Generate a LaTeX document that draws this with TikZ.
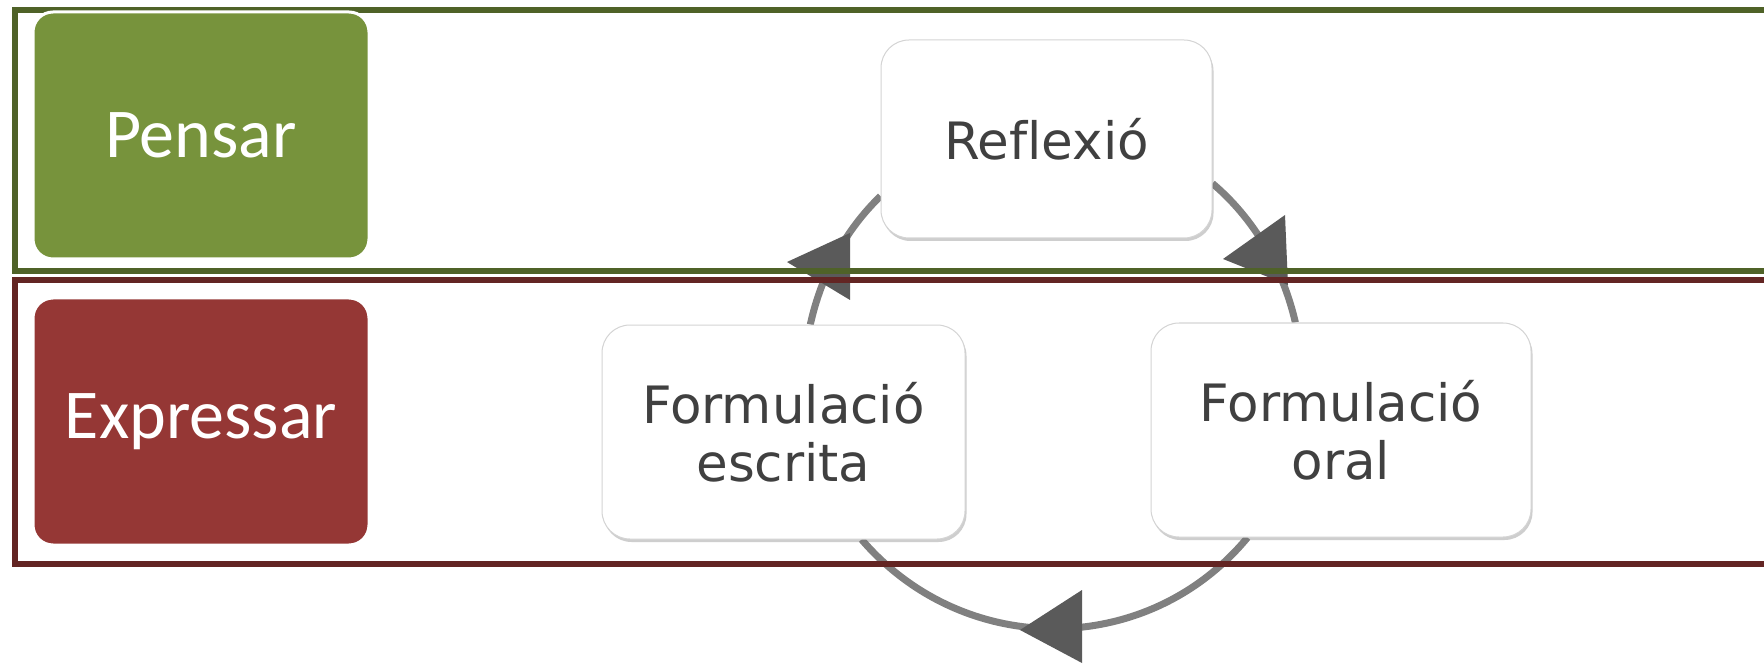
\documentclass[tikz,border=0pt]{standalone}
\usepackage{fontspec}
\setmainfont{DejaVu Sans}[Ligatures={NoCommon}]
\newfontfamily\calib{Carlito}
\usetikzlibrary{shadows}
\definecolor{olivebox}{HTML}{77933C}
\definecolor{oliveframe}{HTML}{4F6228}
\definecolor{redbox}{HTML}{953735}
\definecolor{redframe}{HTML}{632523}
\definecolor{txtgray}{HTML}{404040}
\definecolor{arcgray}{HTML}{808080}
\definecolor{tipgray}{HTML}{5A5A5A}
\definecolor{boxedge}{HTML}{D4D4D4}
\pgfdeclarelayer{bg}
\pgfdeclarelayer{mid}
\pgfsetlayers{bg,mid,main}
\begin{document}
\begin{tikzpicture}[x=1pt,y=1pt,
  labelbox/.style={rounded corners=20pt, draw=white, line width=3pt, inner sep=0pt,
    minimum width=336pt, minimum height=247pt, text=white,
    font=\calib\fontsize{70}{80}\selectfont},
  cyclebox/.style={rounded corners=28pt, draw=boxedge, line width=1pt, fill=white,
    inner sep=0pt, minimum height=214pt, align=center, text=txtgray,
    font=\fontsize{51.5}{58}\selectfont,
    drop shadow={shadow xshift=1.5pt, shadow yshift=-3pt, opacity=0.35, fill=black!55}},
  cyc/.style={draw=arcgray, line width=7pt},
  tipshape/.style={fill=tipgray},
  frame/.style={line width=5.5pt}]
\useasboundingbox (0,0) rectangle (1764,665);

% label boxes
\node[labelbox, fill=olivebox] (pensar) at (201,529.5) {Pensar};
\node[labelbox, fill=redbox] (expressar) at (201,243.5) {Expressar};

% cycle boxes
\node[cyclebox, minimum width=331pt, minimum height=198pt] (refl) at (1046.5,526) {Reflexió};
\node[cyclebox, minimum width=363pt] (escr) at (783.5,233) {Formulació\\escrita};
\node[cyclebox, minimum width=380pt] (oral) at (1341,235) {Formulació\\oral};

% frames
\begin{pgfonlayer}{mid}
\draw[frame, draw=oliveframe] (1800,655) -- (15,655) -- (15,394) -- (1800,394);
\draw[frame, draw=redframe] (1800,385) -- (15,385) -- (15,101) -- (1800,101);
\end{pgfonlayer}

% connectors
\begin{pgfonlayer}{bg}
\fill[white] (0,0) rectangle (1764,665);
\draw[cyc] (refl.-15.4) to[out=-40.3, in=102.9, looseness=0.87] (oral.113.3);
\draw[cyc] (oral.-131.3) to[out=-129.6, in=-49.4, looseness=1.04] (escr.-54.4);
\draw[cyc] (escr.76.1) to[out=77.6, in=223.9, looseness=0.87] (refl.199.5);
\fill[tipshape] (787,403) -- (850,432) -- (850,365) -- cycle;
\fill[tipshape] (1223,406) -- (1285,450) -- (1288,380) -- cycle;
\fill[tipshape] (1020,35) -- (1082,75) -- (1082,2) -- cycle;
\end{pgfonlayer}
\end{tikzpicture}
\end{document}
